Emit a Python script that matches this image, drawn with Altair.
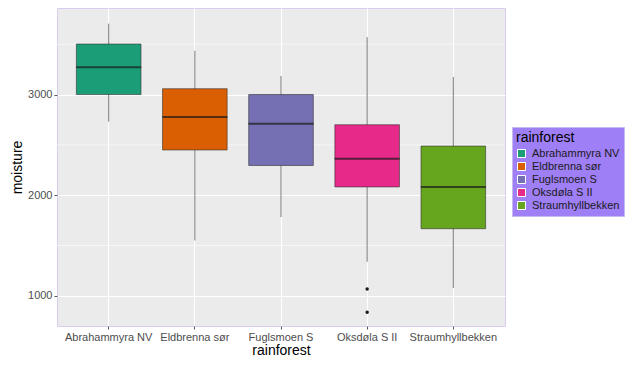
import altair as alt
import pandas as pd

sites = ["Abrahammyra NV", "Eldbrenna sør", "Fuglsmoen S", "Oksdøla S II", "Straumhyllbekken"]
lower = [2730, 1550, 1783, 1338, 1077]
q1 = [3000, 2449, 2295, 2082, 1667]
median = [3270, 2778, 2710, 2362, 2082]
q3 = [3502, 3058, 3000, 2700, 2488]
upper = [3705, 3435, 3184, 3570, 3174]
outlier_site = ["Oksdøla S II", "Oksdøla S II"]
outlier_value = [1068, 836]
colors = ["#1B9E77", "#D95F02", "#7570B3", "#E7298A", "#66A61E"]
y_ticks = [1000, 2000, 3000]
minor_ticks = [1500, 2500, 3500]

stats = pd.DataFrame({"rainforest": sites, "lower": lower, "q1": q1,
                      "median": median, "q3": q3, "upper": upper})
outs = pd.DataFrame({"rainforest": outlier_site, "moisture": outlier_value})
minor = pd.DataFrame({"v": minor_ticks})

font = "Liberation Sans"
xscale = alt.Scale(domain=sites, paddingInner=0, paddingOuter=0.1)
yscale = alt.Scale(domain=[700, 3860], nice=False, zero=False)

x = alt.X("rainforest:N", scale=xscale, sort=sites,
          axis=alt.Axis(title="rainforest", labelAngle=0, labelColor="#4D4D4D",
                        labelFontSize=11, titleFontSize=14, titleFontWeight="normal",
                        titleColor="#000000", tickColor="#555555", tickSize=3,
                        labelPadding=2, titlePadding=1, domain=False,
                        grid=True, gridColor="#FFFFFF", gridWidth=1))

yaxis = alt.Axis(title="moisture", values=y_ticks, format="d", labelColor="#4D4D4D",
                 labelFontSize=11, titleFontSize=14, titleFontWeight="normal",
                 titleColor="#000000", tickColor="#555555", tickSize=3,
                 labelPadding=2, titlePadding=3, domain=False,
                 grid=True, gridColor="#FFFFFF", gridWidth=1.2)

minor_grid = alt.Chart(minor).mark_rule(color="#FFFFFF", strokeWidth=0.6).encode(
    y=alt.Y("v:Q", scale=yscale, axis=yaxis))

whisk = alt.Chart(stats).mark_rule(color="#7A7A7A", strokeWidth=1).encode(
    x=x,
    y=alt.Y("lower:Q", scale=yscale),
    y2="upper:Q")

box = alt.Chart(stats).mark_bar(width={"band": 0.75}, stroke="#333333",
                                strokeWidth=0.6, opacity=1).encode(
    x=x,
    y=alt.Y("q1:Q", scale=yscale),
    y2="q3:Q",
    color=alt.Color("rainforest:N", scale=alt.Scale(domain=sites, range=colors),
                    legend=alt.Legend(title="rainforest", orient="none",
                                      legendX=455, legendY=119,
                                      fillColor="#9F7FF5", strokeColor="#C8B8F0",
                                      padding=4, symbolType="square",
                                      symbolSize=64, symbolStrokeColor="#FFFFFF",
                                      symbolStrokeWidth=1, labelFontSize=11,
                                      titleFontSize=14, titleFontWeight="normal",
                                      labelColor="#1A1A1A", titleColor="#000000",
                                      rowPadding=0, titlePadding=3, labelOffset=5)))

med = alt.Chart(stats).mark_tick(color="#1A1A1A", thickness=2, size=65).encode(
    x=x, y=alt.Y("median:Q", scale=yscale))

pts = alt.Chart(outs).mark_circle(color="#1A1A1A", size=12, opacity=1).encode(
    x=x, y=alt.Y("moisture:Q", scale=yscale))

chart = alt.layer(minor_grid, whisk, box, med, pts).properties(
    width=448, height=318,
    autosize=alt.AutoSizeParams(type="none"),
    padding={"left": 49, "top": 0, "right": 122, "bottom": 33},
).configure(
    font=font,
    view=alt.ViewConfig(fill="#EBEBEB", stroke="#D9CCEE", strokeWidth=1),
    axis=alt.AxisConfig(labelFont=font, titleFont=font),
    legend=alt.LegendConfig(labelFont=font, titleFont=font),
)

chart.save("out.html", embed_options={"renderer": "svg", "actions": False})
